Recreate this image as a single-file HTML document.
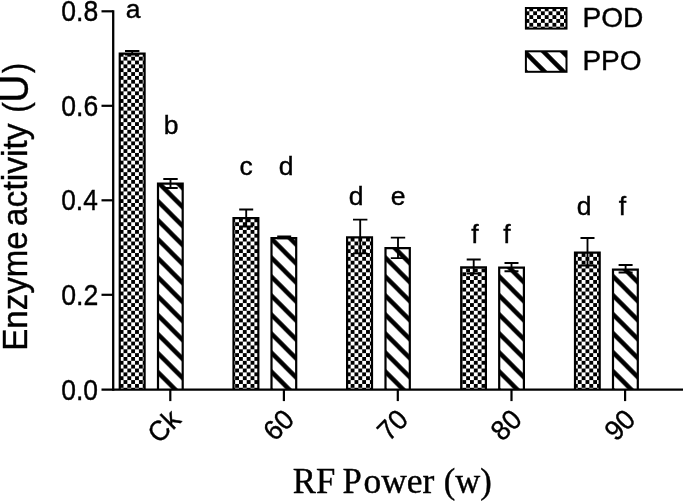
<!DOCTYPE html>
<html><head><meta charset="utf-8"><title>Enzyme activity</title>
<style>
html,body{margin:0;padding:0;background:#fff;}
svg{display:block}
text{font-family:"Liberation Sans",Arial,sans-serif;fill:#000;font-kerning:none}
.serif{font-family:"Liberation Serif","Times New Roman",serif}
</style></head><body>
<svg width="685" height="501" viewBox="0 0 685 501">
<defs>
<pattern id="chk" patternUnits="userSpaceOnUse" x="123.5" y="56.7" width="7.7" height="7.7">
<rect x="0" y="0" width="7.7" height="7.7" fill="#fff"/>
<rect x="0" y="0" width="3.85" height="3.85" fill="#000"/>
<rect x="3.85" y="3.85" width="3.85" height="3.85" fill="#000"/>
</pattern>
<pattern id="chkL" patternUnits="userSpaceOnUse" x="125.1" y="57.5" width="7.7" height="7.7">
<rect x="0" y="0" width="7.7" height="7.7" fill="#fff"/>
<rect x="0" y="0" width="3.85" height="3.85" fill="#000"/>
<rect x="3.85" y="3.85" width="3.85" height="3.85" fill="#000"/>
</pattern>
<pattern id="hat" patternUnits="userSpaceOnUse" x="0" y="5.3" width="19.0" height="19.0">
<rect x="0" y="0" width="19.0" height="19.0" fill="#fff"/>
<path d="M-19.0,-19.0 L38.0,38.0 M-19.0,0 L19.0,38.0 M0,-19.0 L38.0,19.0" stroke="#000" stroke-width="4.455" fill="none"/>
</pattern>
<pattern id="hatL" patternUnits="userSpaceOnUse" x="0" y="21.1" width="19.0" height="19.0">
<rect x="0" y="0" width="19.0" height="19.0" fill="#fff"/>
<path d="M-19.0,-19.0 L38.0,38.0 M-19.0,0 L19.0,38.0 M0,-19.0 L38.0,19.0" stroke="#000" stroke-width="4.455" fill="none"/>
</pattern>
</defs>
<rect width="685" height="501" fill="#fff"/>

<rect x="119.75" y="53.70" width="24.85" height="335.90" fill="url(#chk)"/><path d="M119.75,389.60V53.70H144.60V389.60" fill="none" stroke="#000" stroke-width="2.2" stroke-linejoin="miter"/>
<path d="M125.00,51.00H139.40M125.00,54.50H139.40M132.20,51.00V54.50" stroke="#000" stroke-width="1.85" fill="none"/>
<rect x="233.50" y="218.10" width="24.85" height="171.50" fill="url(#chk)"/><path d="M233.50,389.60V218.10H258.35V389.60" fill="none" stroke="#000" stroke-width="2.2" stroke-linejoin="miter"/>
<path d="M239.20,209.50H253.20M239.20,226.50H253.20M246.20,209.50V226.50" stroke="#000" stroke-width="1.85" fill="none"/>
<rect x="347.10" y="237.30" width="24.90" height="152.30" fill="url(#chk)"/><path d="M347.10,389.60V237.30H372.00V389.60" fill="none" stroke="#000" stroke-width="2.2" stroke-linejoin="miter"/>
<path d="M353.00,219.60H367.40M353.00,253.40H367.40M360.20,219.60V253.40" stroke="#000" stroke-width="1.85" fill="none"/>
<rect x="461.20" y="267.40" width="24.70" height="122.20" fill="url(#chk)"/><path d="M461.20,389.60V267.40H485.90V389.60" fill="none" stroke="#000" stroke-width="2.2" stroke-linejoin="miter"/>
<path d="M466.70,259.50H480.70M466.70,273.50H480.70M473.70,259.50V273.50" stroke="#000" stroke-width="1.85" fill="none"/>
<rect x="575.00" y="252.70" width="24.70" height="136.90" fill="url(#chk)"/><path d="M575.00,389.60V252.70H599.70V389.60" fill="none" stroke="#000" stroke-width="2.2" stroke-linejoin="miter"/>
<path d="M580.50,238.00H594.50M580.50,265.50H594.50M587.50,238.00V265.50" stroke="#000" stroke-width="1.85" fill="none"/>
<rect x="158.00" y="183.70" width="24.70" height="205.90" fill="url(#hat)"/><path d="M158.00,389.60V183.70H182.70V389.60" fill="none" stroke="#000" stroke-width="2.2" stroke-linejoin="miter"/>
<path d="M163.30,179.00H177.70M163.30,188.00H177.70M170.50,179.00V188.00" stroke="#000" stroke-width="1.85" fill="none"/>
<rect x="271.50" y="238.10" width="24.70" height="151.50" fill="url(#hat)"/><path d="M271.50,389.60V238.10H296.20V389.60" fill="none" stroke="#000" stroke-width="2.2" stroke-linejoin="miter"/>
<path d="M277.20,236.30H291.20M277.20,238.20H291.20M284.20,236.30V238.20" stroke="#000" stroke-width="1.85" fill="none"/>
<rect x="385.50" y="248.10" width="24.30" height="141.50" fill="url(#hat)"/><path d="M385.50,389.60V248.10H409.80V389.60" fill="none" stroke="#000" stroke-width="2.2" stroke-linejoin="miter"/>
<path d="M390.80,237.60H405.20M390.80,258.10H405.20M398.00,237.60V258.10" stroke="#000" stroke-width="1.85" fill="none"/>
<rect x="499.20" y="267.60" width="24.70" height="122.00" fill="url(#hat)"/><path d="M499.20,389.60V267.60H523.90V389.60" fill="none" stroke="#000" stroke-width="2.2" stroke-linejoin="miter"/>
<path d="M504.50,263.00H518.50M504.50,271.25H518.50M511.50,263.00V271.25" stroke="#000" stroke-width="1.85" fill="none"/>
<rect x="613.00" y="269.70" width="24.80" height="119.90" fill="url(#hat)"/><path d="M613.00,389.60V269.70H637.80V389.60" fill="none" stroke="#000" stroke-width="2.2" stroke-linejoin="miter"/>
<path d="M618.60,265.00H632.60M618.60,272.50H632.60M625.60,265.00V272.50" stroke="#000" stroke-width="1.85" fill="none"/>
<path d="M113.2,10.20V390.70" stroke="#000" stroke-width="2.3" fill="none"/>
<path d="M101.5,389.6H683" stroke="#000" stroke-width="2.2" fill="none"/>
<path d="M101.5,294.80H113.2" stroke="#000" stroke-width="2.2"/>
<path d="M101.5,200.30H113.2" stroke="#000" stroke-width="2.2"/>
<path d="M101.5,105.80H113.2" stroke="#000" stroke-width="2.2"/>
<path d="M101.5,11.30H113.2" stroke="#000" stroke-width="2.2"/>
<text transform="translate(61.27,399.65) scale(0.9120,1)" font-size="29" stroke="#000" stroke-width="0.4">0.0</text>
<text transform="translate(61.26,304.65) scale(0.9199,1)" font-size="29" stroke="#000" stroke-width="0.4">0.2</text>
<text transform="translate(61.27,210.15) scale(0.9053,1)" font-size="29" stroke="#000" stroke-width="0.4">0.4</text>
<text transform="translate(61.26,115.65) scale(0.9154,1)" font-size="29" stroke="#000" stroke-width="0.4">0.6</text>
<text transform="translate(61.26,21.15) scale(0.9151,1)" font-size="29" stroke="#000" stroke-width="0.4">0.8</text>
<path d="M170.3,389.6V401.1" stroke="#000" stroke-width="2.2"/>
<text transform="translate(182.3,421.2) rotate(-45) scale(0.96,1)" font-size="28" text-anchor="end" stroke="#000" stroke-width="0.4">Ck</text>
<path d="M283.9,389.6V401.1" stroke="#000" stroke-width="2.2"/>
<text transform="translate(295.9,421.2) rotate(-45) scale(0.96,1)" font-size="28" text-anchor="end" stroke="#000" stroke-width="0.4">60</text>
<path d="M397.8,389.6V401.1" stroke="#000" stroke-width="2.2"/>
<text transform="translate(409.8,421.2) rotate(-45) scale(0.96,1)" font-size="28" text-anchor="end" stroke="#000" stroke-width="0.4">70</text>
<path d="M511.5,389.6V401.1" stroke="#000" stroke-width="2.2"/>
<text transform="translate(523.5,421.2) rotate(-45) scale(0.96,1)" font-size="28" text-anchor="end" stroke="#000" stroke-width="0.4">80</text>
<path d="M625.1,389.6V401.1" stroke="#000" stroke-width="2.2"/>
<text transform="translate(637.1,421.2) rotate(-45) scale(0.96,1)" font-size="28" text-anchor="end" stroke="#000" stroke-width="0.4">90</text>
<text x="133" y="17.9" font-size="26.5" text-anchor="middle" stroke="#000" stroke-width="0.4">a</text>
<text x="171.2" y="133.6" font-size="26.5" text-anchor="middle" stroke="#000" stroke-width="0.4">b</text>
<text x="246.2" y="175" font-size="26.5" text-anchor="middle" stroke="#000" stroke-width="0.4">c</text>
<text x="286.2" y="175" font-size="26.5" text-anchor="middle" stroke="#000" stroke-width="0.4">d</text>
<text x="356.2" y="204.5" font-size="26.5" text-anchor="middle" stroke="#000" stroke-width="0.4">d</text>
<text x="398" y="204.5" font-size="26.5" text-anchor="middle" stroke="#000" stroke-width="0.4">e</text>
<text x="475" y="242.5" font-size="26.5" text-anchor="middle" stroke="#000" stroke-width="0.4">f</text>
<text x="507" y="242.5" font-size="26.5" text-anchor="middle" stroke="#000" stroke-width="0.4">f</text>
<text x="584" y="214.5" font-size="26.5" text-anchor="middle" stroke="#000" stroke-width="0.4">d</text>
<text x="622.5" y="214.5" font-size="26.5" text-anchor="middle" stroke="#000" stroke-width="0.4">f</text>
<rect x="525.9" y="8" width="40.6" height="20.6" fill="url(#chkL)" stroke="#000" stroke-width="2"/>
<rect x="525.9" y="51.3" width="40.6" height="20.5" fill="url(#hatL)" stroke="#000" stroke-width="2"/>
<text transform="translate(582.39,27.00) scale(1.0046,1)" font-size="28" stroke="#000" stroke-width="0.4">POD</text>
<text transform="translate(582.40,70.40) scale(1.0019,1)" font-size="28" stroke="#000" stroke-width="0.4">PPO</text>
<text transform="translate(27.3,0) rotate(-90)" font-size="34.6" stroke="#000" stroke-width="0.4"><tspan x="-350.71" y="0.00" font-size="34.6" textLength="119.38" lengthAdjust="spacingAndGlyphs">Enzyme</tspan> <tspan x="-226.13" y="0.00" font-size="34.6" textLength="102.79" lengthAdjust="spacingAndGlyphs">activity</tspan> <tspan x="-112.86" y="0.70" font-size="34.6" textLength="10.55" lengthAdjust="spacingAndGlyphs">(</tspan><tspan x="-102.46" y="0.20" font-size="40" textLength="27.72" lengthAdjust="spacingAndGlyphs">U</tspan><tspan x="-73.08" y="0.70" font-size="34.6" textLength="10.05" lengthAdjust="spacingAndGlyphs">)</tspan></text>
<text class="serif" font-size="35" stroke="#000" stroke-width="0.4"><tspan x="292.80" y="493.10" font-size="35" textLength="42.45" lengthAdjust="spacingAndGlyphs">RF</tspan> <tspan x="342.60" y="493.10" font-size="35" textLength="19.29" lengthAdjust="spacingAndGlyphs">P</tspan><tspan x="363.45" y="493.10" font-size="35" textLength="70.86" lengthAdjust="spacingAndGlyphs">ower</tspan> <tspan x="443.68" y="493.10" font-size="35" textLength="48.04" lengthAdjust="spacingAndGlyphs">(w)</tspan></text>
</svg></body></html>
